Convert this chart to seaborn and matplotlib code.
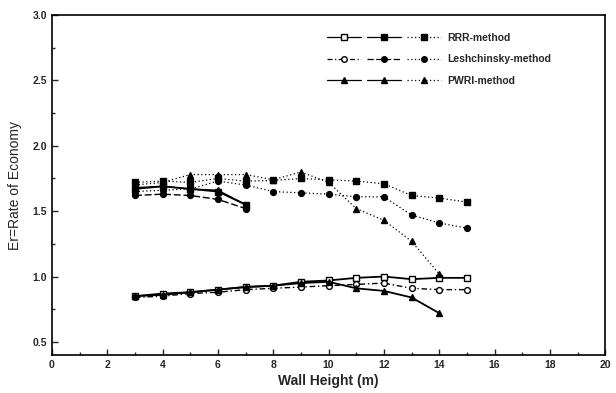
import matplotlib
matplotlib.use("Agg")
import matplotlib.pyplot as plt
import seaborn as sns
import pandas as pd
from matplotlib.lines import Line2D
from matplotlib.legend_handler import HandlerTuple
from matplotlib.ticker import MultipleLocator

# ---------------- data ----------------
x_full = [3, 4, 5, 6, 7, 8, 9, 10, 11, 12, 13, 14, 15]
x_short = [3, 4, 5, 6, 7]
x_pwri = [3, 4, 5, 6, 7, 8, 9, 10, 11, 12, 13, 14]

rrr_open = [0.85, 0.87, 0.88, 0.90, 0.92, 0.93, 0.96, 0.97, 0.99, 1.00, 0.98, 0.99, 0.99]
rrr_fill = [1.67, 1.69, 1.67, 1.65, 1.55]
rrr_dot = [1.72, 1.73, 1.72, 1.75, 1.73, 1.735, 1.75, 1.74, 1.73, 1.71, 1.62, 1.60, 1.57]

lesh_open = [0.84, 0.85, 0.87, 0.88, 0.90, 0.91, 0.92, 0.93, 0.94, 0.95, 0.91, 0.90, 0.90]
lesh_fill = [1.62, 1.63, 1.62, 1.59, 1.52]
lesh_dot = [1.65, 1.66, 1.67, 1.73, 1.70, 1.65, 1.64, 1.63, 1.61, 1.61, 1.47, 1.41, 1.37]

pwri_low = [0.85, 0.86, 0.88, 0.90, 0.92, 0.93, 0.95, 0.96, 0.91, 0.89, 0.84, 0.72]
pwri_fill = [1.68, 1.69, 1.67, 1.66, 1.55]
pwri_dot = [1.70, 1.72, 1.78, 1.78, 1.78, 1.74, 1.80, 1.72, 1.52, 1.43, 1.27, 1.02]

methods = ["RRR-method", "Leshchinsky-method", "PWRI-method"]

# ---------------- style ----------------
sns.set_style("ticks")
plt.rcParams['font.family'] = ['Liberation Sans', 'DejaVu Sans']
plt.rcParams['font.weight'] = 'bold'
plt.rcParams['axes.labelweight'] = 'bold'

DOT = (0, (1, 2))
DASHDOT = (0, (4, 2, 1, 2))
DASH = (0, (5, 2))

series = [
    (x_full, rrr_open, '-', 1.3, 's', 'white'),
    (x_short, rrr_fill, '-', 1.3, 's', 'black'),
    (x_full, rrr_dot, DOT, 0.9, 's', 'black'),
    (x_full, lesh_open, DASHDOT, 1.0, 'o', 'white'),
    (x_short, lesh_fill, DASH, 1.0, 'o', 'black'),
    (x_full, lesh_dot, DOT, 0.9, 'o', 'black'),
    (x_pwri, pwri_low, '-', 1.3, '^', 'black'),
    (x_short, pwri_fill, '-', 1.0, '^', 'black'),
    (x_pwri, pwri_dot, DOT, 0.9, '^', 'black'),
]

fig = plt.figure(figsize=(6.16, 3.93), dpi=100)
ax = fig.add_axes([0.0844, 0.0967, 0.898, 0.865])

for xs, ys, ls, lw, m, fc in series:
    df = pd.DataFrame({"x": xs, "y": ys})
    sns.lineplot(data=df, x="x", y="y", ax=ax, color='black', linestyle=ls,
                 linewidth=lw, marker=m, markersize=4.2, markerfacecolor=fc,
                 markeredgecolor='black', markeredgewidth=1.0,
                 estimator=None, sort=False, legend=False)

ax.set_xlim(0, 20)
ax.set_ylim(0.4, 3.0)
ax.xaxis.set_major_locator(MultipleLocator(2))
ax.xaxis.set_minor_locator(MultipleLocator(1))
ax.yaxis.set_major_locator(MultipleLocator(0.5))
ax.yaxis.set_minor_locator(MultipleLocator(0.25))
ax.set_yticks([0.5, 1.0, 1.5, 2.0, 2.5, 3.0])
ax.tick_params(which='both', direction='in', width=1.0, labelsize=7.5,
               top=False, right=False)
ax.tick_params(which='major', length=4)
ax.tick_params(which='minor', length=2)
for lab in ax.get_xticklabels() + ax.get_yticklabels():
    lab.set_fontweight('bold')
for s in ax.spines.values():
    s.set_linewidth(1.2)
    s.set_color('black')

ax.set_xlabel("Wall Height (m)", fontsize=10, fontweight='bold', labelpad=3)
ax.set_ylabel("Er=Rate of Economy", fontsize=10, fontweight='normal', labelpad=8)

# legend: three sample styles per method
handles = []
styles = [
    [('-', 's', 'white'), ('-', 's', 'black'), (DOT, 's', 'black')],
    [(DASHDOT, 'o', 'white'), (DASH, 'o', 'black'), (DOT, 'o', 'black')],
    [('-', '^', 'black'), ('-', '^', 'black'), (DOT, '^', 'black')],
]
for row in styles:
    tup = tuple(Line2D([], [], color='black', linestyle=ls, linewidth=0.9,
                       marker=m, markersize=4, markerfacecolor=fc,
                       markeredgecolor='black') for ls, m, fc in row)
    handles.append(tup)

ax.legend(handles, methods, handler_map={tuple: HandlerTuple(ndivide=None, pad=0.6)},
          loc='upper left', bbox_to_anchor=(0.48, 0.975), frameon=False,
          handlelength=11, labelspacing=1.1, handletextpad=0.6,
          prop={'weight': 'bold', 'size': 7.5})

fig.savefig("out.png", dpi=100)
